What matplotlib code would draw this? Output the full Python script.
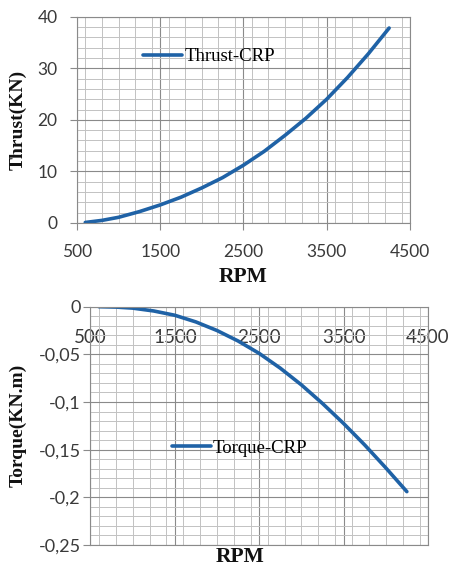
import matplotlib
matplotlib.use('Agg')
import matplotlib.pyplot as plt
from matplotlib.ticker import MultipleLocator, FixedLocator, FuncFormatter

# ---- data ----
rpm = [600, 800, 1000, 1250, 1500, 1750, 2000, 2250, 2500, 2750, 3000, 3250, 3500, 3750, 4000, 4250]
thrust_kn = [0.1, 0.5, 1.1, 2.2, 3.5, 5.0, 6.8, 8.8, 11.2, 13.9, 17.0, 20.3, 24.0, 28.2, 32.8, 37.8]
torque_knm = [0.0, -0.0004, -0.0015, -0.0045, -0.009, -0.016, -0.025, -0.036, -0.049, -0.0645,
              -0.082, -0.1015, -0.1225, -0.145, -0.169, -0.194]
x_ticks = [500, 1500, 2500, 3500, 4500]
thrust_ticks = [0, 10, 20, 30, 40]
torque_ticks = [0, -0.05, -0.1, -0.15, -0.2, -0.25]

LINE = '#1f62a6'
MAJ = '#8a8a8a'
MIN = '#c2c2c2'
TXT = '#3a3a3a'
TICKFONT = 'Lato'
SERIF = 'Liberation Serif'

fig = plt.figure(figsize=(4.5, 5.71), dpi=100)

def style_grid(ax, xminor, yminor):
    ax.xaxis.set_minor_locator(MultipleLocator(xminor))
    ax.yaxis.set_minor_locator(MultipleLocator(yminor))
    ax.grid(which='minor', color=MIN, linewidth=0.7)
    ax.grid(which='major', color=MAJ, linewidth=0.8)
    ax.set_axisbelow(True)
    for s in ax.spines.values():
        s.set_color(MAJ)
        s.set_linewidth(0.8)
    ax.tick_params(which='minor', length=0)

def comma_fmt(v, pos):
    if abs(v) < 1e-12:
        return '0'
    return '{:g}'.format(v).replace('.', ',')

# ---- top: thrust ----
ax1 = fig.add_axes([0.171, 0.6095, 0.74, 0.3613])
ax1.plot(rpm, thrust_kn, color=LINE, linewidth=2.6, label='Thrust-CRP',
         solid_capstyle='round', solid_joinstyle='round')
ax1.set_xlim(500, 4500)
ax1.set_ylim(0, 40)
ax1.xaxis.set_major_locator(FixedLocator(x_ticks))
ax1.yaxis.set_major_locator(FixedLocator(thrust_ticks))
style_grid(ax1, 200, 2)
ax1.tick_params(which='major', direction='out', length=5, color=MAJ,
                labelsize=12.5, labelcolor=TXT)
ax1.tick_params(axis='x', which='major', pad=10)
ax1.tick_params(axis='y', which='major', pad=9)
for lab in ax1.get_xticklabels() + ax1.get_yticklabels():
    lab.set_fontfamily(TICKFONT)
ax1.set_xlabel('RPM', fontfamily=SERIF, fontweight='bold', fontsize=15.5, color='#111111')
ax1.xaxis.set_label_coords(0.5, -0.215)
ax1.set_ylabel('Thrust(KN)', fontfamily=SERIF, fontweight='bold', fontsize=14, color='#111111')
ax1.yaxis.set_label_coords(-0.15, 0.5)
ax1.legend(loc='center left', bbox_to_anchor=(0.198, 0.805), frameon=False,
           prop={'family': SERIF, 'size': 13.5}, handlelength=2.1, handletextpad=0.1,
           borderpad=0, borderaxespad=0)

# ---- bottom: torque ----
ax2 = fig.add_axes([0.201, 0.0455, 0.75, 0.4174])
ax2.plot(rpm, torque_knm, color=LINE, linewidth=2.6, label='Torque-CRP',
         solid_capstyle='round', solid_joinstyle='round')
ax2.set_xlim(500, 4500)
ax2.set_ylim(-0.25, 0)
ax2.xaxis.set_major_locator(FixedLocator(x_ticks))
ax2.yaxis.set_major_locator(FixedLocator(torque_ticks))
ax2.yaxis.set_major_formatter(FuncFormatter(comma_fmt))
style_grid(ax2, 200, 0.01)
ax2.xaxis.tick_top()
ax2.tick_params(axis='x', which='major', length=0, pad=-28, labelsize=13.5, labelcolor=TXT)
ax2.tick_params(axis='y', which='major', direction='out', length=5, color=MAJ, pad=2,
                labelsize=13, labelcolor=TXT)
for lab in ax2.get_xticklabels() + ax2.get_yticklabels():
    lab.set_fontfamily(TICKFONT)
ax2.set_xlabel('RPM', fontfamily=SERIF, fontweight='bold', fontsize=15.5, color='#111111')
ax2.xaxis.set_label_position('bottom')
ax2.xaxis.label.set_verticalalignment('top')
ax2.xaxis.set_label_coords(0.443, -0.008)
ax2.set_ylabel('Torque(KN.m)', fontfamily=SERIF, fontweight='bold', fontsize=14, color='#111111')
ax2.yaxis.set_label_coords(-0.188, 0.5)
ax2.legend(loc='center left', bbox_to_anchor=(0.241, 0.407), frameon=False,
           prop={'family': SERIF, 'size': 13.5}, handlelength=2.1, handletextpad=0.1,
           borderpad=0, borderaxespad=0)

fig.savefig('out.png', dpi=100)
